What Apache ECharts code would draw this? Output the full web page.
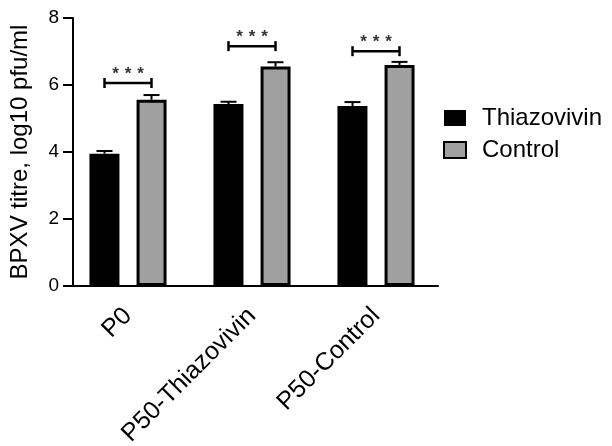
<!DOCTYPE html>
<html>
<head>
<meta charset="utf-8">
<script src="https://cdn.jsdelivr.net/npm/echarts@6/dist/echarts.min.js"></script>
<style>html,body{margin:0;padding:0;background:#fff}#c{width:612px;height:446px}</style>
</head>
<body>
<div id="c"></div>
<script>
var categories = ['P0', 'P50-Thiazovivin', 'P50-Control'];
var thiazovivin = [3.95, 5.43, 5.37];
var thiazovivinErr = [0.08, 0.07, 0.12];
var control = [5.56, 6.55, 6.60];
var controlErr = [0.14, 0.13, 0.09];
var bracketLevels = [6.06, 7.16, 7.01];
var sigLabels = ['***', '***', '***'];
var yTicks = [0, 2, 4, 6, 8];

var BAR_W = 30, HALF_OFF = 23.5;
var chart = echarts.init(document.getElementById('c'));
var FONT = 'Liberation Sans, Arial, sans-serif';

function errData(vals, errs, s) {
  return vals.map(function (v, i) { return [i, v, errs[i], s]; });
}
function renderErr(params, api) {
  var off = api.value(3) === 0 ? -HALF_OFF : HALF_OFF;
  var base = api.coord([api.value(0), api.value(1)]);
  var top = api.coord([api.value(0), api.value(1) + api.value(2)]);
  var x = base[0] + off;
  var st = { stroke: '#000', lineWidth: 2 };
  return { type: 'group', children: [
    { type: 'line', shape: { x1: x, y1: base[1], x2: x, y2: top[1] }, style: st },
    { type: 'line', shape: { x1: x - 8, y1: top[1], x2: x + 8, y2: top[1] }, style: st }
  ]};
}
function renderBracket(params, api) {
  var c = api.coord([api.value(0), api.value(1)]);
  var x1 = c[0] - HALF_OFF, x2 = c[0] + HALF_OFF, y = c[1];
  var st = { stroke: '#000', lineWidth: 2.5 };
  var kids = [
    { type: 'line', shape: { x1: x1, y1: y, x2: x2, y2: y }, style: st },
    { type: 'line', shape: { x1: x1, y1: y - 5, x2: x1, y2: y + 5 }, style: st },
    { type: 'line', shape: { x1: x2, y1: y - 5, x2: x2, y2: y + 5 }, style: st }
  ];
  var stars = sigLabels[params.dataIndex].split('');
  var n = stars.length;
  stars.forEach(function (s, k) {
    kids.push({ type: 'text', style: { text: s, x: c[0] + (k - (n - 1) / 2) * 12.5, y: y - 9,
      textAlign: 'center', textVerticalAlign: 'middle', fill: '#333',
      font: 'bold 17px ' + FONT } });
  });
  return { type: 'group', children: kids };
}

chart.setOption({
  animation: false,
  backgroundColor: '#fff',
  grid: { left: 66, top: 18, width: 372, height: 268, containLabel: false, outerBoundsMode: 'none' },
  legend: {
    orient: 'vertical', left: 443, top: 106, padding: 0, itemWidth: 22, itemHeight: 16, itemGap: 8,
    textStyle: { fontFamily: FONT, fontSize: 24, color: '#000', lineHeight: 24, padding: [0, 0, 0, 11] },
    data: [
      { name: 'Thiazovivin', icon: 'rect' },
      { name: 'Control', icon: 'rect' }
    ]
  },
  xAxis: {
    type: 'category', data: categories,
    axisLine: { lineStyle: { color: '#000', width: 2 } },
    axisTick: { alignWithLabel: true, length: 9, lineStyle: { color: '#000', width: 2 } },
    axisLabel: { rotate: 45, fontFamily: FONT, fontSize: 25, color: '#000', margin: 26 }
  },
  yAxis: {
    type: 'value', min: 0, max: 8, interval: 2, offset: -7,
    name: 'BPXV titre, log10 pfu/ml', nameLocation: 'middle', nameGap: 41,
    nameTextStyle: { fontFamily: FONT, fontSize: 24, color: '#000' },
    axisLine: { show: true, lineStyle: { color: '#000', width: 2 } },
    axisTick: { show: true, length: 10, lineStyle: { color: '#000', width: 2 } },
    axisLabel: { fontFamily: FONT, fontSize: 19, color: '#000', margin: 14,
      formatter: function (v) { return yTicks.indexOf(v) >= 0 ? String(v) : ''; } },
    splitLine: { show: false }
  },
  series: [
    { name: 'Thiazovivin', type: 'bar', data: thiazovivin, barWidth: BAR_W, barGap: '57%',
      itemStyle: { color: '#000', borderColor: '#000', borderWidth: 0 } },
    { name: 'Control', type: 'bar', data: control, barWidth: BAR_W,
      itemStyle: { color: '#a0a0a0', borderColor: '#000', borderWidth: 3 } },
    { type: 'custom', renderItem: renderErr, data: errData(thiazovivin, thiazovivinErr, 0), z: 1 },
    { type: 'custom', renderItem: renderErr, data: errData(control, controlErr, 1), z: 1 },
    { type: 'custom', renderItem: renderBracket, data: bracketLevels.map(function (v, i) { return [i, v]; }), z: 5 }
  ]
});
</script>
</body>
</html>
